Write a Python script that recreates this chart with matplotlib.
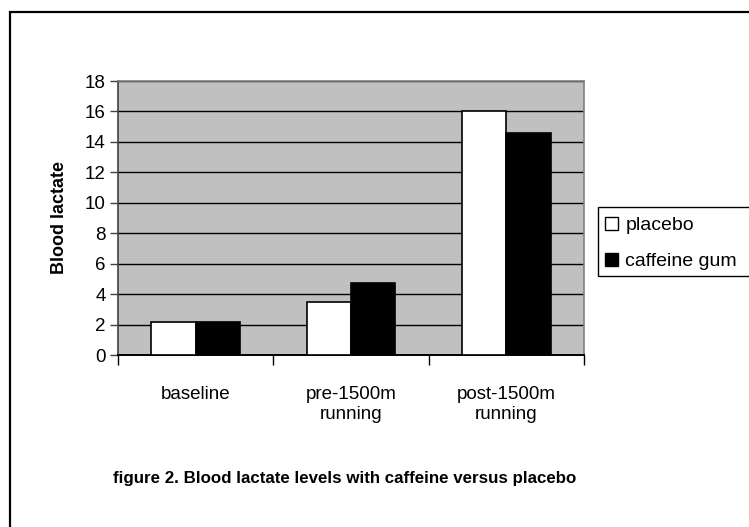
import matplotlib
matplotlib.use("Agg")
import matplotlib.pyplot as plt
import numpy as np
from matplotlib.patches import Rectangle, Patch

categories = ["baseline", "pre-1500m\nrunning", "post-1500m\nrunning"]
placebo = [2.2, 3.5, 16.0]
caffeine = [2.2, 4.7, 14.6]
series_names = ["placebo", "caffeine gum"]
yticks = [0, 2, 4, 6, 8, 10, 12, 14, 16, 18]

plt.rcParams['font.family'] = ['Liberation Sans', 'DejaVu Sans']

W, H = 749, 527
fig = plt.figure(figsize=(W/100, H/100), dpi=100)

# outer chart border (left/top visible; right/bottom cropped)
fig.patches.append(Rectangle((10/W, -0.1), 1.2, 1 - 12/H + 0.1, transform=fig.transFigure,
                             fill=False, edgecolor='black', linewidth=1.6))

ax = fig.add_axes([118/W, 1 - 355/H, (584 - 118)/W, (355 - 81)/H])
ax.set_facecolor('#C0C0C0')

x = np.arange(len(categories))
bw = 0.285
ax.bar(x - bw/2, placebo, bw, color='white', edgecolor='black', linewidth=1.2, zorder=3)
ax.bar(x + bw/2, caffeine, bw, color='black', edgecolor='black', linewidth=1.2, zorder=3)

ax.set_xlim(-0.5, len(categories) - 0.5)
ax.set_ylim(0, 18)
ax.set_yticks(yticks)
ax.yaxis.grid(True, color='black', linewidth=1.0, zorder=1)
ax.set_axisbelow(True)

ax.set_xticks(np.arange(len(categories) + 1) - 0.5, minor=False)
ax.set_xticklabels([])
ax.set_xticks(x, minor=True)
ax.set_xticklabels(categories, minor=True, fontsize=13.5, linespacing=1.3)
ax.tick_params(axis='x', which='minor', length=0, pad=22)
ax.tick_params(axis='x', which='major', length=7, width=1, color='black', direction='out')
ax.tick_params(axis='y', length=6, width=1, color='#404040', labelsize=13.5, pad=3)

for s in ['top', 'right', 'left']:
    ax.spines[s].set_color('#808080')
    ax.spines[s].set_linewidth(1.2)
ax.spines['left'].set_color('#404040')
ax.spines['bottom'].set_color('black')
ax.spines['bottom'].set_linewidth(1.4)

ax.set_ylabel("Blood lactate", fontsize=13, fontweight='bold', labelpad=12)

# legend frame (extends past the right edge, as in the original)
fig.patches.append(Rectangle((598/W, 1 - 276/H), 0.3, 69/H, transform=fig.transFigure,
                             facecolor='white', edgecolor='black', linewidth=1.0))
handles = [Patch(facecolor='white', edgecolor='black', linewidth=1.0),
           Patch(facecolor='black', edgecolor='black', linewidth=1.0)]
leg = fig.legend(handles, series_names, loc='center left',
                 bbox_to_anchor=(605/W, 1 - 243.5/H), bbox_transform=fig.transFigure,
                 borderaxespad=0, fontsize=14, frameon=False,
                 handlelength=0.65, handleheight=0.65,
                 handletextpad=0.4, borderpad=0.0, labelspacing=0.95)

fig.text(345/W, 1 - 478/H, "figure 2. Blood lactate levels with caffeine versus placebo",
         ha='center', va='center', fontsize=12.2, fontweight='bold')

fig.savefig("out.png", dpi=100)
